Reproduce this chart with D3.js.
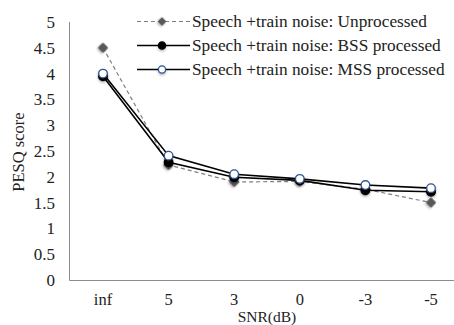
<!DOCTYPE html>
<html>
<head>
<meta charset="utf-8">
<script src="https://cdn.jsdelivr.net/npm/d3@7"></script>
<style>
  body { margin: 0; background: #fff; }
</style>
</head>
<body>
<svg id="chart" width="454" height="325"></svg>
<script>
var categories = ['inf', '5', '3', '0', '-3', '-5'];
var unprocessed = [4.5, 2.23, 1.9, 1.91, 1.76, 1.5];
var bssProcessed = [3.95, 2.28, 1.99, 1.93, 1.74, 1.71];
var mssProcessed = [4.0, 2.41, 2.05, 1.96, 1.84, 1.78];
var yTicks = [0, 0.5, 1, 1.5, 2, 2.5, 3, 3.5, 4, 4.5, 5];
var seriesNames = [
    'Speech +train noise: Unprocessed',
    'Speech +train noise: BSS processed',
    'Speech +train noise: MSS processed'
];

var FONT = "'Liberation Serif', 'Times New Roman', Times, serif";

var svg = d3.select('#chart')
    .attr('font-family', FONT)
    .attr('fill', '#222');

var x = d3.scalePoint()
    .domain(categories)
    .range([103, 431]);

var y = d3.scaleLinear()
    .domain([0, 5])
    .range([280, 22]);

var defs = svg.append('defs');
var shadow = defs.append('filter').attr('id', 'shadow')
    .attr('x', '-50%').attr('y', '-50%').attr('width', '200%').attr('height', '200%');
shadow.append('feDropShadow')
    .attr('dx', 0).attr('dy', 1.5).attr('stdDeviation', 1)
    .attr('flood-color', '#000').attr('flood-opacity', 0.3);

// axes lines
svg.append('line')
    .attr('x1', 69.5).attr('x2', 69.5)
    .attr('y1', y(5)).attr('y2', y(0) + 0.5)
    .attr('stroke', '#8c8c8c').attr('stroke-width', 1);
svg.append('line')
    .attr('x1', 69.5).attr('x2', 454)
    .attr('y1', y(0) + 0.5).attr('y2', y(0) + 0.5)
    .attr('stroke', '#8c8c8c').attr('stroke-width', 1);

// y tick labels
svg.append('g').selectAll('text')
    .data(yTicks)
    .enter().append('text')
    .attr('x', 55)
    .attr('y', function (d) { return y(d) + 6; })
    .attr('text-anchor', 'end')
    .attr('font-family', FONT)
    .attr('font-size', 17)
    .text(function (d) { return d; });

// x tick labels
svg.append('g').selectAll('text')
    .data(categories)
    .enter().append('text')
    .attr('x', function (d) { return x(d); })
    .attr('y', 304.5)
    .attr('text-anchor', 'middle')
    .attr('font-family', FONT)
    .attr('font-size', 16.5)
    .text(function (d) { return d; });

svg.append('text')
    .attr('x', 267)
    .attr('y', 322)
    .attr('text-anchor', 'middle')
    .attr('font-family', FONT)
    .attr('font-size', 15.5)
    .text('SNR(dB)');

svg.append('text')
    .attr('transform', 'translate(24,152) rotate(-90)')
    .attr('text-anchor', 'middle')
    .attr('font-family', FONT)
    .attr('font-size', 16.5)
    .text('PESQ score');

var line = d3.line()
    .x(function (d, i) { return x(categories[i]); })
    .y(function (d) { return y(d); });

var series = [
    { values: unprocessed, stroke: '#7f7f7f', width: 1.2, dash: '4,3', marker: 'diamond', fill: '#595959', mstroke: '#595959' },
    { values: bssProcessed, stroke: '#000', width: 1.6, dash: null, marker: 'circle', fill: '#000', mstroke: '#000' },
    { values: mssProcessed, stroke: '#000', width: 1.6, dash: null, marker: 'circle', fill: '#fff', mstroke: '#2f5597' }
];

function drawMarker(g, s, cx, cy, r) {
    if (s.marker === 'diamond') {
        g.append('path')
            .attr('d', d3.symbol().type(d3.symbolSquare).size(r * r * 2.2)())
            .attr('transform', 'translate(' + cx + ',' + cy + ') rotate(45)')
            .attr('fill', s.fill)
            .attr('stroke', s.mstroke)
            .attr('filter', 'url(#shadow)');
    } else {
        g.append('circle')
            .attr('cx', cx).attr('cy', cy).attr('r', r)
            .attr('fill', s.fill)
            .attr('stroke', s.mstroke)
            .attr('stroke-width', 1.3)
            .attr('filter', 'url(#shadow)');
    }
}

series.forEach(function (s) {
    svg.append('path')
        .datum(s.values)
        .attr('d', line)
        .attr('fill', 'none')
        .attr('stroke', s.stroke)
        .attr('stroke-width', s.width)
        .attr('stroke-dasharray', s.dash);
});

series.forEach(function (s) {
    var g = svg.append('g');
    s.values.forEach(function (v, i) {
        drawMarker(g, s, x(categories[i]), y(v), 4.3);
    });
});

// legend
var legendY = [21.5, 45.5, 69.5];
series.forEach(function (s, i) {
    var g = svg.append('g');
    g.append('line')
        .attr('x1', 137).attr('x2', 190)
        .attr('y1', legendY[i]).attr('y2', legendY[i])
        .attr('stroke', s.stroke)
        .attr('stroke-width', s.width)
        .attr('stroke-dasharray', s.dash);
    drawMarker(g, s, 162, legendY[i], 3.6);
    g.append('text')
        .attr('x', 192)
        .attr('y', legendY[i] + 5.5)
        .attr('font-family', FONT)
        .attr('font-size', 17.3)
        .text(seriesNames[i]);
});
</script>
</body>
</html>
